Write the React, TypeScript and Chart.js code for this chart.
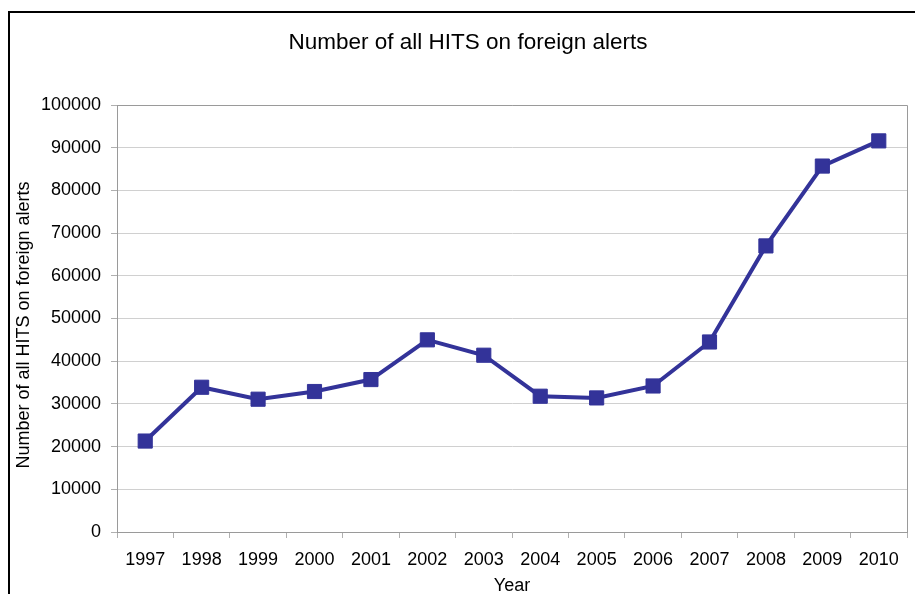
import React, { useEffect, useRef } from "react";
import { Chart, registerables } from "chart.js";

Chart.register(...registerables);

const years = ["1997", "1998", "1999", "2000", "2001", "2002", "2003", "2004", "2005", "2006", "2007", "2008", "2009", "2010"];
const hits = [21300, 33900, 31100, 32900, 35700, 45000, 41400, 31800, 31400, 34200, 44500, 67000, 85700, 91600];
const yTicks = [0, 10000, 20000, 30000, 40000, 50000, 60000, 70000, 80000, 90000, 100000];
const chartTitle = "Number of all HITS on foreign alerts";
const yTitle = "Number of all HITS on foreign alerts";
const xTitle = "Year";

const FONT = "'Liberation Sans', Arial, sans-serif";

const frame = {
  id: "frame",
  beforeDraw(chart: any) {
    const ctx = chart.ctx;
    ctx.save();
    ctx.fillStyle = "#ffffff";
    ctx.fillRect(0, 0, chart.width, chart.height);
    ctx.strokeStyle = "#000000";
    ctx.lineWidth = 2;
    ctx.beginPath();
    ctx.moveTo(9, chart.height + 2);
    ctx.lineTo(9, 12);
    ctx.lineTo(chart.width + 2, 12);
    ctx.stroke();
    ctx.restore();
  },
  beforeDatasetsDraw(chart: any) {
    const { ctx, chartArea } = chart;
    ctx.save();
    ctx.strokeStyle = "#9a9a9a";
    ctx.lineWidth = 1;
    ctx.beginPath();
    ctx.moveTo(chartArea.left, chartArea.top + 0.5);
    ctx.lineTo(chartArea.right + 0.5, chartArea.top + 0.5);
    ctx.lineTo(chartArea.right + 0.5, chartArea.bottom);
    ctx.stroke();
    ctx.restore();
  },
  afterDraw(chart: any) {
    const ctx = chart.ctx;
    ctx.save();
    ctx.fillStyle = "#000000";
    ctx.textAlign = "center";
    ctx.textBaseline = "middle";
    ctx.font = `22.5px ${FONT}`;
    ctx.fillText(chartTitle, 468, 43);
    ctx.translate(24, 325);
    ctx.rotate(-Math.PI / 2);
    ctx.font = `18px ${FONT}`;
    ctx.fillText(yTitle, 0, 0);
    ctx.restore();
  },
};

export default function App() {
  const ref = useRef<HTMLCanvasElement | null>(null);
  useEffect(() => {
    if (!ref.current) return;
    const chart = new Chart(ref.current, {
      type: "line",
      data: {
        labels: years,
        datasets: [
          {
            label: chartTitle,
            data: hits,
            borderColor: "#333399",
            backgroundColor: "#333399",
            borderWidth: 4,
            pointStyle: "rect",
            pointRadius: 10,
            pointHoverRadius: 10,
            pointBorderWidth: 1,
            pointBorderColor: "#333399",
            pointBackgroundColor: "#333399",
            tension: 0,
          },
        ],
      },
      options: {
        responsive: false,
        animation: false,
        layout: { autoPadding: false, padding: { left: 0, right: 8, top: 105, bottom: 0 } },
        plugins: {
          legend: { display: false },
          tooltip: { enabled: false },
          title: { display: false },
        },
        scales: {
          x: {
            type: "category",
            offset: true,
            afterFit: (s: any) => {
              s.height = 62;
              s.paddingLeft = 0;
              s.paddingRight = 0;
            },
            grid: {
              offset: true,
              drawOnChartArea: false,
              drawTicks: true,
              tickLength: 6,
              tickColor: "#b0b0b0",
            },
            border: { display: true, color: "#9a9a9a", width: 1 },
            ticks: {
              color: "#000000",
              font: { family: FONT, size: 18 },
              padding: 11,
              maxRotation: 0,
              autoSkip: false,
            },
            title: {
              display: true,
              text: xTitle,
              color: "#000000",
              font: { family: FONT, size: 18 },
              padding: { top: 0, bottom: -3 },
            },
          },
          y: {
            min: 0,
            max: 100000,
            afterFit: (s: any) => {
              s.width = 117;
            },
            afterBuildTicks: (s: any) => {
              s.ticks = yTicks.map((v) => ({ value: v }));
            },
            grid: {
              color: "#d0d0d0",
              drawTicks: true,
              tickLength: 6,
              tickColor: "#b0b0b0",
            },
            border: { display: true, color: "#9a9a9a", width: 1 },
            ticks: {
              color: "#000000",
              font: { family: FONT, size: 18 },
              padding: 10,
              callback: (v: any) => String(v),
            },
            title: { display: false },
          },
        },
      },
      plugins: [frame],
    });
    return () => chart.destroy();
  }, []);
  return (
    <div style={{ position: "fixed", left: 0, top: 0, width: 915, height: 594 }}>
      <canvas ref={ref} width={915} height={594} style={{ display: "block", width: 915, height: 594 }} />
    </div>
  );
}
